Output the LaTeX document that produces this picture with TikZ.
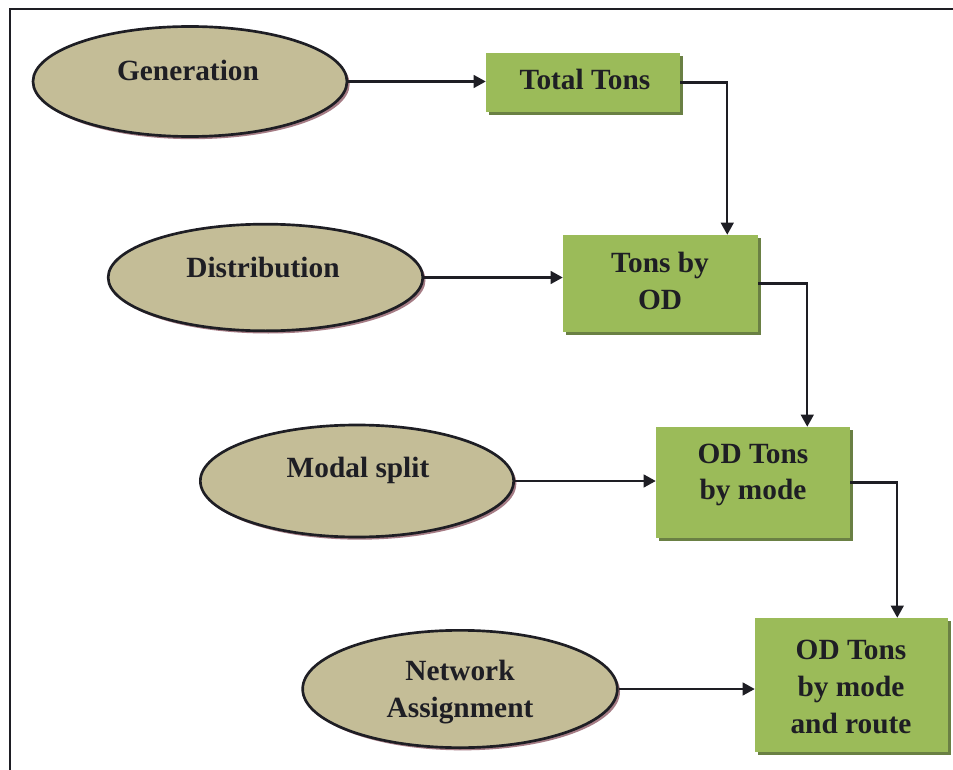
\documentclass[tikz,border=0pt]{standalone}
\usepackage{fontspec}
\setmainfont{Liberation Serif}
\usetikzlibrary{arrows.meta,calc,shapes.geometric,shadows}

\definecolor{tan}{HTML}{C4BD97}
\definecolor{olive}{HTML}{9BBB59}
\definecolor{oliveshade}{HTML}{5A7330}
\definecolor{mauveshade}{HTML}{9C6E78}
\definecolor{ink}{HTML}{1E1E24}

\tikzset{
  stage/.style={ellipse, draw=ink, line width=2pt, fill=tan, inner sep=0pt,
    drop shadow={shadow xshift=2pt, shadow yshift=-2pt, fill=mauveshade, opacity=0.9}},
  result/.style={rectangle, fill=olive, inner sep=0pt,
    drop shadow={shadow xshift=2.4pt, shadow yshift=-2.4pt, fill=oliveshade, opacity=0.9}},
  caption/.style={font=\fontsize{22}{27.5}\selectfont\bfseries, text=ink, align=center, inner sep=0pt},
  flow/.style={draw=ink, line width=1.6pt, -{Triangle[length=9pt,width=9.5pt]}},
}

\begin{document}
\begin{tikzpicture}[x=0.75pt, y=-0.75pt]
  \useasboundingbox (0,0) rectangle (953,770);
  \fill[white] (0,0) rectangle (953,770);

  % page frame (top and left edges)
  \draw[line width=1.8pt, ink] (953,9) -- (10,9) -- (10,770);

  % process stages
  \node[stage, minimum width=235.5pt, minimum height=82.5pt] (gen) at (190,81.5) {};
  \node[stage, minimum width=236pt, minimum height=80pt] (dist) at (265.5,277.5) {};
  \node[stage, minimum width=235pt, minimum height=84pt] (modal) at (357,481) {};
  \node[stage, minimum width=236pt, minimum height=88pt] (net) at (460,689) {};

  % outputs of each stage
  \node[result, minimum width=145.5pt, minimum height=44.25pt] (tot) at (583,82.5) {};
  \node[result, minimum width=146.25pt, minimum height=72.75pt] (od) at (660.5,283.5) {};
  \node[result, minimum width=145.5pt, minimum height=83.25pt] (mode) at (753,482.5) {};
  \node[result, minimum width=144.75pt, minimum height=100.5pt] (route) at (851.5,685) {};

  % labels
  \node[caption] (gen-t) at (188,70) {Generation};
  \node[caption] (dist-t) at (263,268) {Distribution};
  \node[caption] (modal-t) at (358,470) {Modal split};
  \node[caption] (net-t) at (460,692) {Network\\Assignment};
  \node[caption] (tot-t) at (585,79) {Total Tons};
  \node[caption] (od-t) at (660,281) {Tons by\\OD};
  \node[caption] (mode-t) at (753,475) {OD Tons\\by mode};
  \node[caption] (route-t) at (851,687) {OD Tons\\by mode\\and route};

  % stage to output
  \draw[flow] (gen.east) -- (gen.east -| tot.west);
  \draw[flow] (dist.east) -- (dist.east -| od.west);
  \draw[flow] (modal.east) -- (modal.east -| mode.west);
  \draw[flow] (net.east) -- (net.east -| route.west);

  % output feeding the next output
  \draw[flow] (tot.east) -| ($(od.north east)+(-31,0)$);
  \draw[flow] (od.east) -| ($(mode.north east)+(-43,0)$);
  \draw[flow] (mode.east) -| ($(route.north east)+(-51,0)$);
\end{tikzpicture}
\end{document}
